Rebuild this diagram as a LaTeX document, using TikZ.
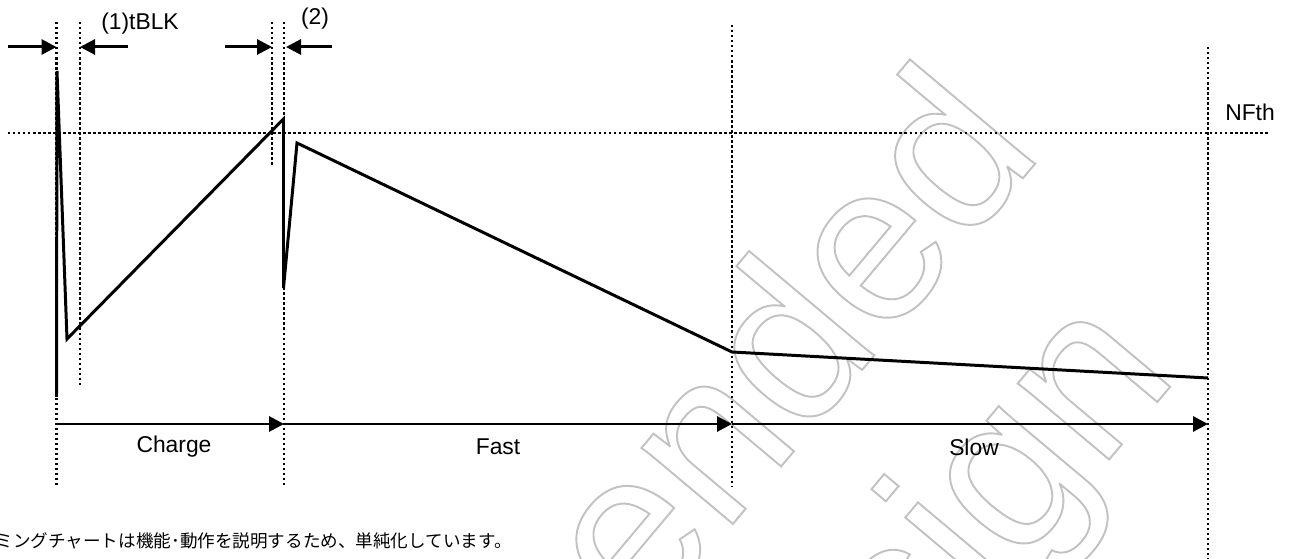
\documentclass[tikz,border=0pt]{standalone}
\usepackage{fontspec}
\setmainfont{Liberation Sans}
\newfontfamily\jpfont{Noto Sans CJK JP}
\usetikzlibrary{arrows.meta}
% outlined text (stroke only)
\newcommand\hollow[1]{\special{pdf:code q 1 Tr 1.1 w 0.76 G}#1\special{pdf:code Q}}

\begin{document}
\begin{tikzpicture}[>={Triangle[length=3mm,width=3mm]}]
	\def \roof{10.74cm}
	\def \arrowlevel{10.24cm}
	\def \threshold{8.52cm}
	\def \spanlevel{2.70cm}
	\def \spantext{2.24cm}
	\def \floor{1.46cm}

	\def \tA{1.13cm}
	\def \tB{1.60cm}
	\def \tC{5.44cm}
	\def \tD{5.68cm}
	\def \tE{14.64cm}
	\def \tF{24.16cm}

	\tikzstyle{wave}=[draw=black,line width=1.7pt]
	\tikzstyle{guide}=[draw=black,line width=1.4pt,dash pattern=on 1.4pt off 1.45pt]
	\tikzstyle{span}=[draw=black,line width=1.7pt,->]
	\tikzstyle{tag}=[inner sep=0pt,font=\fontsize{13}{15}\selectfont]
	\tikzstyle{stamp}=[inner sep=0pt,rotate=50,font=\fontsize{128}{140}\selectfont]

	\useasboundingbox (0,0) rectangle (25.84,11.18);

	% watermark
	\node[stamp,anchor=base east] (stamp1) at (20.90,8.14) {\hollow{Not recommended}};
	\node[stamp,anchor=base east] (stamp2) at (23.60,3.68) {\hollow{for new design}};

	% guide lines
	\coordinate (gA-top) at (\tA,\roof);
	\coordinate (gA-bot) at (\tA,\floor);
	\coordinate (gB-top) at (\tB,\roof);
	\coordinate (gB-bot) at (\tB,3.44cm);
	\coordinate (gC-top) at (\tC,\roof);
	\coordinate (gC-bot) at (\tC,7.84cm);
	\coordinate (gD-top) at (\tD,\roof);
	\coordinate (gD-bot) at (\tD,\floor);
	\coordinate (gE-top) at (\tE,10.68cm);
	\coordinate (gE-bot) at (\tE,\floor);
	\coordinate (gF-top) at (\tF,\arrowlevel);
	\coordinate (gF-bot) at (\tF,0cm);
	\coordinate (th-left) at (0.16cm,\threshold);
	\coordinate (th-right) at (25.36cm,\threshold);

	\path[guide] (gA-top) -- (gA-bot);
	\path[guide] (gB-top) -- (gB-bot);
	\path[guide] (gC-top) -- (gC-bot);
	\path[guide] (gD-top) -- (gD-bot);
	\path[guide] (gE-top) -- (gE-bot);
	\path[guide] (gF-top) -- (gF-bot);
	\path[guide] (th-left) -- (th-right);

	% waveform
	\coordinate (w0) at (1.13cm,3.24cm);
	\coordinate (w1) at (1.14cm,9.76cm);
	\coordinate (w2) at (1.34cm,4.40cm);
	\coordinate (w3) at (5.67cm,8.80cm);
	\coordinate (w4) at (5.67cm,5.42cm);
	\coordinate (w5) at (5.94cm,8.32cm);
	\coordinate (w6) at (\tE,4.14cm);
	\coordinate (w7) at (\tF,3.62cm);
	\path[wave] (w0) -- (w1) -- (w2) -- (w3) -- (w4) -- (w5) -- (w6) -- (w7);

	% blanking arrows
	\coordinate (b1-out) at (0.16cm,\arrowlevel);
	\coordinate (b1-in) at (\tA,\arrowlevel);
	\coordinate (b2-out) at (2.56cm,\arrowlevel);
	\coordinate (b2-in) at (\tB,\arrowlevel);
	\coordinate (b3-out) at (4.50cm,\arrowlevel);
	\coordinate (b3-in) at (\tC,\arrowlevel);
	\coordinate (b4-out) at (6.64cm,\arrowlevel);
	\coordinate (b4-in) at (5.72cm,\arrowlevel);
	\path[span] (b1-out) -- (b1-in);
	\path[span] (b2-out) -- (b2-in);
	\path[span] (b3-out) -- (b3-in);
	\path[span] (b4-out) -- (b4-in);

	% phase arrows
	\coordinate (p0) at (\tA,\spanlevel);
	\coordinate (p1) at (\tD,\spanlevel);
	\coordinate (p2) at (\tE,\spanlevel);
	\coordinate (p3) at (\tF,\spanlevel);
	\path[span] (p0) -- (p1);
	\path[span] (p1) -- (p2);
	\path[span] (p2) -- (p3);

	% labels
	\node[tag]	(tblk)	at (2.80cm,10.70cm)	{(1)tBLK};
	\node[tag]	(blk2)	at (6.30cm,10.80cm)	{(2)};
	\node[tag]	(nfth)	at (25.00cm,8.94cm)	{NFth};
	\node[tag]	(charge)	at (3.48cm,\spantext)	{Charge};
	\node[tag]	(fast)	at (9.96cm,\spantext)	{Fast};
	\node[tag]	(slow)	at (19.48cm,\spantext)	{Slow};
	\node[inner sep=0pt,anchor=east,font=\jpfont\fontsize{10}{12}\selectfont] (note) at (10.24cm,0.36cm)
		{ミングチャートは機能･動作を説明するため、単純化しています。};
\end{tikzpicture}
\end{document}
